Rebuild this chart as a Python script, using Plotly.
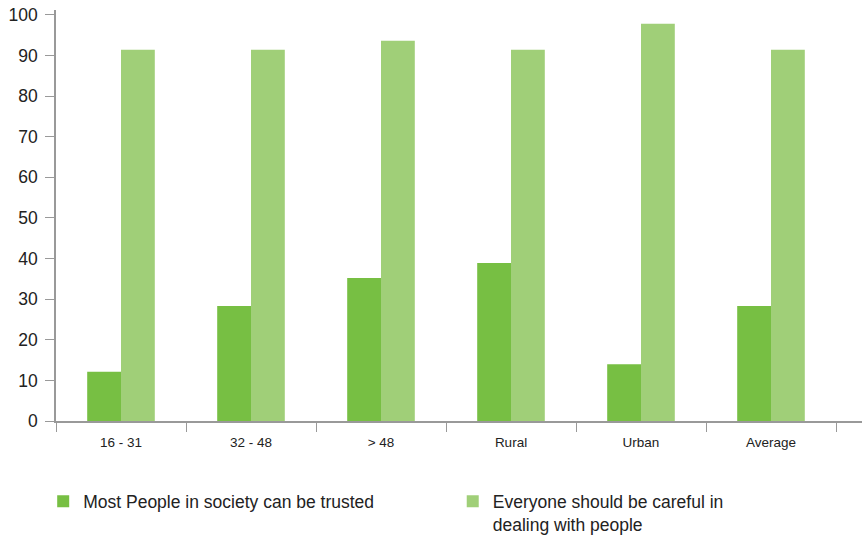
import plotly.graph_objects as go

categories = ["16 - 31", "32 - 48", "> 48", "Rural", "Urban", "Average"]
trusted = [12.1, 28.3, 35.2, 38.9, 14.0, 28.3]
careful = [91.4, 91.4, 93.6, 91.4, 97.8, 91.4]
series_names = ["Most People in society can be trusted",
                "Everyone should be careful in<br>dealing with people"]
y_ticks = [0, 10, 20, 30, 40, 50, 60, 70, 80, 90, 100]

fig = go.Figure()
fig.add_trace(go.Bar(x=categories, y=trusted, name=series_names[0],
                     marker=dict(color="#77BF43", line=dict(width=0)),
                     legend="legend"))
fig.add_trace(go.Bar(x=categories, y=careful, name=series_names[1],
                     marker=dict(color="#A0CF78", line=dict(width=0)),
                     legend="legend2"))

legend_common = dict(orientation="h", xanchor="left", xref="container",
                     yref="container", y=0.1, yanchor="top",
                     font=dict(size=17.5, color="#222222"), valign="top",
                     itemclick=False, bgcolor="rgba(0,0,0,0)")

fig.update_layout(
    width=864, height=537,
    margin=dict(l=56, r=2, t=10, b=116, autoexpand=False),
    paper_bgcolor="white", plot_bgcolor="white",
    barmode="group", bargap=0.48, bargroupgap=0,
    font=dict(family="Liberation Sans, Arial, sans-serif", color="#222222"),
    showlegend=True,
    legend=dict(x=0.05, **legend_common),
    legend2=dict(x=0.524, **legend_common),
)
fig.update_xaxes(
    type="category", range=[-0.5, 5.7], tickson="boundaries",
    ticks="outside", ticklen=9, tickcolor="#999999", tickwidth=1,
    showline=True, linecolor="#999999", linewidth=1.5,
    showgrid=False, tickfont=dict(size=13.5, color="#222222"),
    ticklabelstandoff=8,
)
fig.update_yaxes(
    range=[0, 101.2], tickvals=y_ticks, ticks="outside", ticklen=9,
    tickcolor="#999999", tickwidth=1, showline=True, linecolor="#999999",
    linewidth=1.5, showgrid=False, zeroline=False,
    tickfont=dict(size=17.5, color="#222222"), ticklabelstandoff=4,
)

fig.write_html("out.html")
